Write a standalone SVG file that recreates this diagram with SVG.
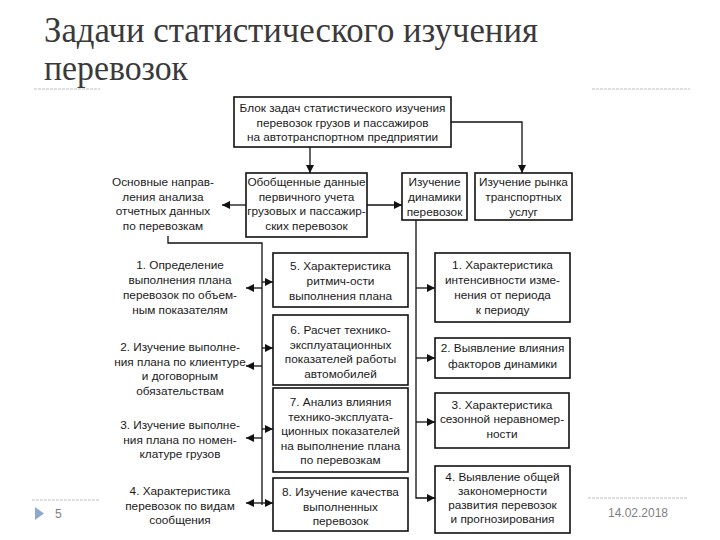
<svg xmlns="http://www.w3.org/2000/svg" width="720" height="540" viewBox="0 0 720 540">
<style>
.title{font-family:"Liberation Serif","DejaVu Serif",serif;font-size:35px;fill:#3a3a3a}
.t{font-family:"Liberation Sans","Arial",sans-serif;font-size:11.8px;fill:#1a1a1a;text-anchor:middle}
.box{fill:#ffffff;stroke:#111;stroke-width:1.6}
.ln{fill:none;stroke:#111;stroke-width:1.3}
.sep{stroke:#bfbfbf;stroke-width:1;stroke-dasharray:3 1}
.foot{font-family:"Liberation Sans","Arial",sans-serif;font-size:12px;fill:#7f7f7f}
</style>
<defs>
<marker id="ah" markerUnits="userSpaceOnUse" markerWidth="9" markerHeight="8" refX="8" refY="4" orient="auto">
<path d="M0,0 L8,4 L0,8 Z" fill="#111"/>
</marker>
</defs>
<rect width="720" height="540" fill="#ffffff"/>

<g id="title">
<text class="title" x="44" y="42" textLength="494" lengthAdjust="spacingAndGlyphs">Задачи статистического изучения</text>
<text class="title" x="44" y="80" textLength="144" lengthAdjust="spacingAndGlyphs">перевозок</text>
<line class="sep" x1="34" y1="89" x2="100" y2="89"/>
<line class="sep" x1="592" y1="89" x2="690" y2="89"/>
</g>

<g id="connectors">
<line class="ln" x1="310" y1="147" x2="310" y2="173" marker-end="url(#ah)"/>
<polyline class="ln" points="451,122 522,122 522,173" marker-end="url(#ah)"/>
<line class="ln" x1="246" y1="205" x2="222" y2="205" marker-end="url(#ah)"/>
<line class="ln" x1="367" y1="205" x2="402" y2="205" marker-end="url(#ah)"/>
<polyline class="ln" points="168,236 168,243 262,243 262,505"/>
<line class="ln" x1="262" y1="282" x2="273" y2="282" marker-end="url(#ah)"/>
<line class="ln" x1="262" y1="288" x2="246" y2="288" marker-end="url(#ah)"/>
<line class="ln" x1="262" y1="348" x2="273" y2="348" marker-end="url(#ah)"/>
<line class="ln" x1="262" y1="366" x2="246" y2="366" marker-end="url(#ah)"/>
<line class="ln" x1="262" y1="429" x2="273" y2="429" marker-end="url(#ah)"/>
<line class="ln" x1="262" y1="438" x2="246" y2="438" marker-end="url(#ah)"/>
<line class="ln" x1="262" y1="503" x2="273" y2="503" marker-end="url(#ah)"/>
<line class="ln" x1="262" y1="503" x2="246" y2="503" marker-end="url(#ah)"/>
<polyline class="ln" points="416,220 416,498 435,498" marker-end="url(#ah)"/>
<line class="ln" x1="416" y1="288" x2="435" y2="288" marker-end="url(#ah)"/>
<line class="ln" x1="416" y1="358" x2="435" y2="358" marker-end="url(#ah)"/>
<line class="ln" x1="416" y1="422" x2="435" y2="422" marker-end="url(#ah)"/>
</g>

<g id="top">
<rect class="box" x="234" y="97" width="217" height="50" stroke-width="2"/>
<text class="t" x="342.5" y="112">Блок задач статистического изучения</text>
<text class="t" x="342.5" y="126.5">перевозок грузов и пассажиров</text>
<text class="t" x="342.5" y="141">на автотранспортном предприятии</text>
</g>

<g id="obobshchennye">
<rect class="box" x="246" y="173" width="121" height="64"/>
<text class="t" x="306.5" y="186">Обобщенные данные</text>
<text class="t" x="306.5" y="200.5">первичного учета</text>
<text class="t" x="306.5" y="215">грузовых и пассажир-</text>
<text class="t" x="306.5" y="229.5">ских перевозок</text>
</g>

<g id="osnovnye">
<text class="t" x="163" y="186">Основные направ-</text>
<text class="t" x="163" y="200.5">ления анализа</text>
<text class="t" x="163" y="215">отчетных данных</text>
<text class="t" x="163" y="229.5">по перевозкам</text>
</g>

<g id="dinamika">
<rect class="box" x="402" y="173" width="65" height="47"/>
<text class="t" x="434.5" y="186">Изучение</text>
<text class="t" x="434.5" y="201">динамики</text>
<text class="t" x="434.5" y="216">перевозок</text>
</g>

<g id="rynok">
<rect class="box" x="475" y="173" width="97" height="47"/>
<text class="t" x="523.5" y="186">Изучение рынка</text>
<text class="t" x="523.5" y="201">транспортных</text>
<text class="t" x="523.5" y="216">услуг</text>
</g>

<g id="left1">
<text class="t" x="180" y="269">1. Определение</text>
<text class="t" x="180" y="284">выполнения плана</text>
<text class="t" x="180" y="299">перевозок по объем-</text>
<text class="t" x="180" y="314">ным показателям</text>
</g>
<g id="left2">
<text class="t" x="180" y="351">2. Изучение выполне-</text>
<text class="t" x="180" y="365.5">ния плана по клиентуре</text>
<text class="t" x="180" y="380">и договорным</text>
<text class="t" x="180" y="394.5">обязательствам</text>
</g>
<g id="left3">
<text class="t" x="180" y="429">3. Изучение выполне-</text>
<text class="t" x="180" y="443.5">ния плана по номен-</text>
<text class="t" x="180" y="458">клатуре грузов</text>
</g>
<g id="left4">
<text class="t" x="180" y="495">4. Характеристика</text>
<text class="t" x="180" y="509.5">перевозок по видам</text>
<text class="t" x="180" y="524">сообщения</text>
</g>

<g id="mid5">
<rect class="box" x="273" y="253" width="135" height="54"/>
<text class="t" x="340.5" y="270">5. Характеристика</text>
<text class="t" x="340.5" y="285">ритмич-ости</text>
<text class="t" x="340.5" y="300">выполнения плана</text>
</g>
<g id="mid6">
<rect class="box" x="273" y="315" width="135" height="70"/>
<text class="t" x="340.5" y="334">6. Расчет технико-</text>
<text class="t" x="340.5" y="348.5">эксплуатационных</text>
<text class="t" x="340.5" y="363">показателей работы</text>
<text class="t" x="340.5" y="377.5">автомобилей</text>
</g>
<g id="mid7">
<rect class="box" x="273" y="388" width="135" height="84"/>
<text class="t" x="340.5" y="406">7. Анализ влияния</text>
<text class="t" x="340.5" y="420.5">технико-эксплуата-</text>
<text class="t" x="340.5" y="435">ционных показателей</text>
<text class="t" x="340.5" y="449.5">на выполнение плана</text>
<text class="t" x="340.5" y="464">по перевозкам</text>
</g>
<g id="mid8">
<rect class="box" x="273" y="478" width="135" height="53"/>
<text class="t" x="340.5" y="496">8. Изучение качества</text>
<text class="t" x="340.5" y="510.5">выполненных</text>
<text class="t" x="340.5" y="525">перевозок</text>
</g>

<g id="right1">
<rect class="box" x="435" y="253" width="135" height="69"/>
<text class="t" x="502.5" y="269">1. Характеристика</text>
<text class="t" x="502.5" y="284">интенсивности изме-</text>
<text class="t" x="502.5" y="299">нения от периода</text>
<text class="t" x="502.5" y="314">к периоду</text>
</g>
<g id="right2">
<rect class="box" x="435" y="338" width="135" height="40"/>
<text class="t" x="502.5" y="352">2. Выявление влияния</text>
<text class="t" x="502.5" y="368">факторов динамики</text>
</g>
<g id="right3">
<rect class="box" x="435" y="393" width="134" height="55"/>
<text class="t" x="502" y="408.5">3. Характеристика</text>
<text class="t" x="502" y="423">сезонной неравномер-</text>
<text class="t" x="502" y="437.5">ности</text>
</g>
<g id="right4">
<rect class="box" x="435" y="466" width="135" height="67"/>
<text class="t" x="502.5" y="481">4. Выявление общей</text>
<text class="t" x="502.5" y="495">закономерности</text>
<text class="t" x="502.5" y="509">развития перевозок</text>
<text class="t" x="502.5" y="523">и прогнозирования</text>
</g>

<g id="footer">
<line class="sep" x1="32" y1="500" x2="100" y2="500"/>
<path d="M35,507 L44,513.5 L35,520 Z" fill="#8eaacb"/>
<text class="foot" x="55" y="518">5</text>
<line class="sep" x1="588" y1="498" x2="688" y2="498"/>
<text class="foot" x="638" y="517" text-anchor="middle">14.02.2018</text>
</g>
</svg>
